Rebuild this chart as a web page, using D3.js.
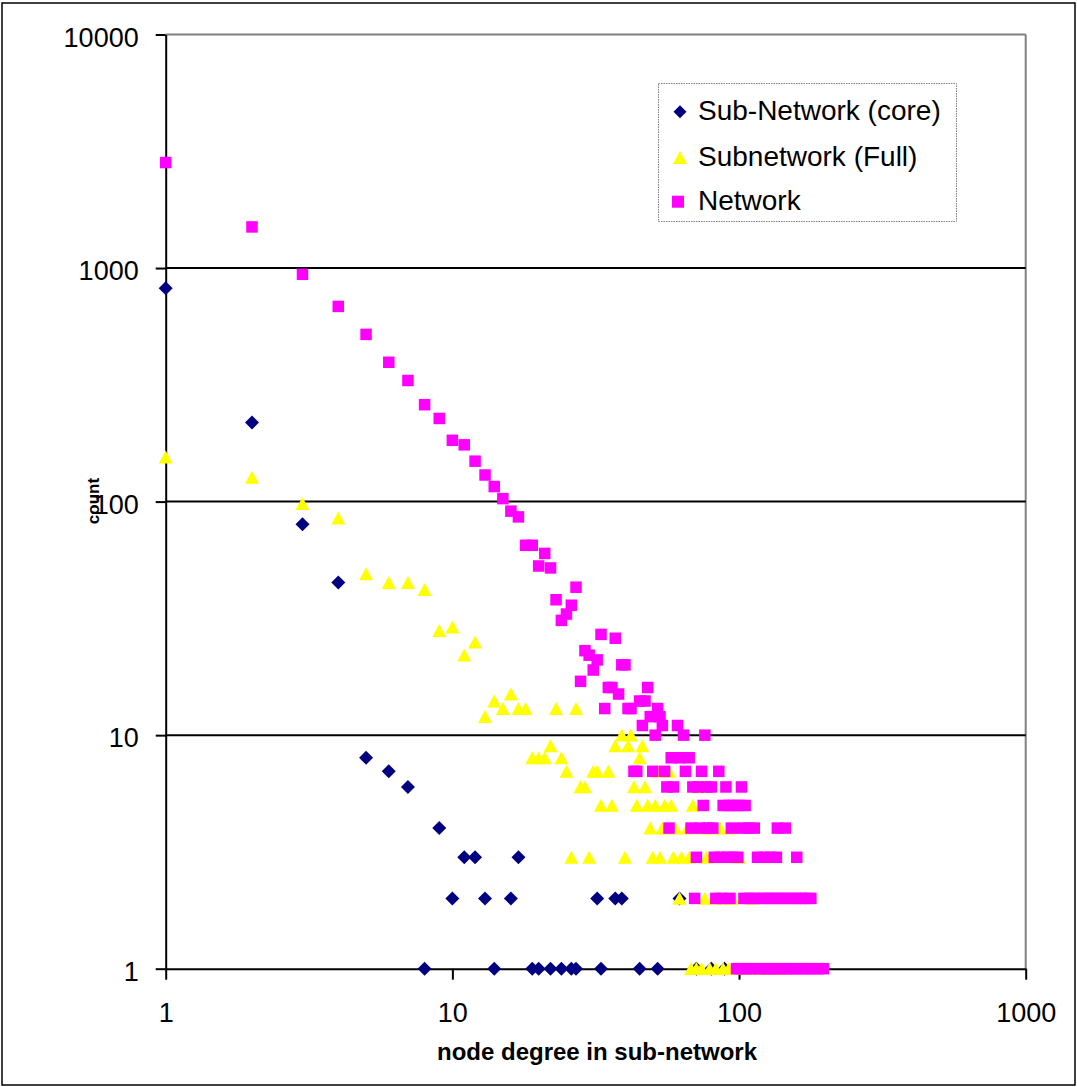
<!DOCTYPE html>
<html>
<head>
<meta charset="utf-8">
<script src="https://cdn.jsdelivr.net/npm/d3@7"></script>
<style>
  html, body { margin: 0; padding: 0; background: #fff; }
  svg { display: block; font-family: "Liberation Sans", Arial, sans-serif; }
</style>
</head>
<body>
<svg id="chart" width="1077" height="1087"></svg>
<script>
// ---------- data ----------
const seriesNames = ["Sub-Network (core)", "Subnetwork (Full)", "Network"];
const xTicks = [1, 10, 100, 1000];
const yTicks = [1, 10, 100, 1000, 10000];

const coreDegree = [1,2,3,4,5,6,7,8,9,10,11,12,13,14,16,17,19,20,22,24,26,27,32,33,37,39,45,52,62,71,80,89];
const coreCount  = [820,218,80,45,8,7,6,1,4,2,3,3,2,1,2,3,1,1,1,1,1,1,2,1,2,2,1,1,2,1,1,1];

const fullDegree = [1,2,3,4,5,6,7,8,9,10,11,12,13,14,15,16,17,18,19,20,21,22,23,24,25,26,27,28,29,30,
  31,32,33,35,36,37,39,40,41,42,43,44,45,46,47,48,49,50,51,52,53,54,55,57,58,59,60,62,63,66,67,68,69,
  71,72,74,75,76,77,79,80,82,83,86,88,90,92,93,95,98,100,104,110,111,117,124,132,140];
const fullCount  = [155,127,98,85,49,45,45,42,28,29,22,25,12,14,13,15,13,13,8,8,8,9,13,8,7,3,13,6,6,3,
  7,7,5,7,5,9,10,3,9,10,6,5,8,9,6,5,4,3,5,7,3,4,5,7,5,3,4,2,3,4,3,1,5,
  1,6,1,4,2,3,1,4,2,1,4,1,2,1,4,2,1,3,1,1,2,1,1,1,1];

const netDegree = [1,2,3,4,5,6,7,8,9,10,11,12,13,14,15,16,17,18,19,20,21,22,23,24,25,26,27,28,29,30,
  31,32,33,34,35,36,37,38,39,40,41,42,43,44,45,46,47,48,49,50,51,52,53,54,55,56,57,58,59,61,62,64,65,67,
  68,69,70,71,72,73,74,75,76,77,78,80,81,82,83,85,86,87,88,90,91,92,93,94,95,96,98,99,100,101,102,103,
  104,105,106,108,109,111,113,114,116,117,120,122,123,126,127,129,131,133,135,136,137,139,143,145,146,
  150,151,157,158,159,164,165,171,172,178,180,188,197];
const netCount  = [2830,1500,940,685,520,395,330,260,227,183,175,149,130,116,103,91,86,65,65,53,60,52,38,31,33,36,43,17,23,22,
  19,21,27,13,16,16,26,15,20,20,13,13,7,7,14,11,14,16,12,7,10,13,12,11,7,6,4,8,6,11,8,10,7,8,
  4,6,2,3,6,4,7,5,10,6,4,6,4,3,2,7,3,2,5,6,3,5,2,4,3,5,1,3,5,1,6,4,
  2,5,1,4,2,1,4,2,3,1,2,3,1,2,1,3,2,1,3,4,2,1,2,4,1,
  2,1,2,1,3,2,1,2,1,2,1,1,1];

// ---------- layout ----------
const plot = { left: 165.7, right: 1025.7, top: 34.5, bottom: 968.7 };
const svg = d3.select("#chart");

const x = d3.scaleLog().domain([1, 1000]).range([plot.left, plot.right]);
const y = d3.scaleLog().domain([1, 10000]).range([plot.bottom, plot.top]);

// outer frame
svg.append("rect").attr("x", 2).attr("y", 3).attr("width", 1073).attr("height", 1082)
  .attr("fill", "#fff").attr("stroke", "#000").attr("stroke-width", 1.5);

// plot border (gray top / right)
svg.append("line").attr("x1", plot.left).attr("x2", plot.right).attr("y1", plot.top).attr("y2", plot.top)
  .attr("stroke", "#808080").attr("stroke-width", 2);
svg.append("line").attr("x1", plot.right).attr("x2", plot.right).attr("y1", plot.top).attr("y2", plot.bottom)
  .attr("stroke", "#808080").attr("stroke-width", 2);

// horizontal gridlines
svg.append("g").selectAll("line").data(yTicks.filter(d => d > 1 && d < 10000)).join("line")
  .attr("x1", plot.left).attr("x2", plot.right)
  .attr("y1", d => y(d)).attr("y2", d => y(d))
  .attr("stroke", "#000").attr("stroke-width", 2);

// axes
const yAxis = d3.axisLeft(y).tickValues(yTicks).tickFormat(d3.format("d"))
  .tickSize(10).tickSizeOuter(0).tickPadding(17);
const gy = svg.append("g").attr("transform", `translate(${plot.left},0)`).call(yAxis);
gy.select(".domain").attr("stroke", "#000").attr("stroke-width", 2);
gy.selectAll(".tick line").attr("stroke", "#000").attr("stroke-width", 2);
gy.selectAll(".tick text").attr("font-size", 27).attr("fill", "#000").attr("dy", "0.43em")
  .attr("font-family", "Liberation Sans, Arial, sans-serif");

const xAxis = d3.axisBottom(x).tickValues(xTicks).tickFormat(d3.format("d"))
  .tickSize(11).tickSizeOuter(0).tickPadding(23);
const gx = svg.append("g").attr("transform", `translate(0,${plot.bottom})`).call(xAxis);
gx.select(".domain").attr("stroke", "#000").attr("stroke-width", 2);
gx.selectAll(".tick line").attr("stroke", "#000").attr("stroke-width", 2);
gx.selectAll(".tick text").attr("font-size", 27).attr("fill", "#000")
  .attr("font-family", "Liberation Sans, Arial, sans-serif");

// axis titles
svg.append("text").attr("x", 597).attr("y", 1060).attr("text-anchor", "middle")
  .attr("font-size", 24).attr("font-weight", "bold").text("node degree in sub-network");
svg.append("text").attr("transform", "translate(99,501) rotate(-90)").attr("text-anchor", "middle")
  .attr("font-size", 17).attr("font-weight", "bold").text("count");

// markers
const diamondPath = "M0,-7L7,0L0,7L-7,0Z";
const trianglePath = "M0,-6.6L7,6.4L-7,6.4Z";
const sq = 11.5;

function pts(deg, cnt) { return deg.map((d, i) => ({ d, c: cnt[i] })); }

const gm = svg.append("g");
gm.append("g").selectAll("path").data(pts(coreDegree, coreCount)).join("path")
  .attr("d", diamondPath).attr("fill", "#000080")
  .attr("transform", p => `translate(${x(p.d)},${y(p.c)})`);
gm.append("g").selectAll("path").data(pts(fullDegree, fullCount)).join("path")
  .attr("d", trianglePath).attr("fill", "#FFFF00")
  .attr("transform", p => `translate(${x(p.d)},${y(p.c)})`);
gm.append("g").selectAll("rect").data(pts(netDegree, netCount)).join("rect")
  .attr("x", p => x(p.d) - sq / 2).attr("y", p => y(p.c) - sq / 2)
  .attr("width", sq).attr("height", sq).attr("fill", "#FF00FF");

// legend
const lg = svg.append("g");
lg.append("rect").attr("x", 658.5).attr("y", 83.5).attr("width", 298).attr("height", 138)
  .attr("fill", "#fff").attr("stroke", "#808080").attr("stroke-width", 1).attr("stroke-dasharray", "1.5,1");
const legendRows = [
  { name: seriesNames[0], y: 111.7, kind: "diamond" },
  { name: seriesNames[1], y: 157.5, kind: "triangle" },
  { name: seriesNames[2], y: 201.7, kind: "square" }
];
legendRows.forEach(r => {
  if (r.kind === "diamond") {
    lg.append("path").attr("d", "M0,-6.5L6.5,0L0,6.5L-6.5,0Z").attr("fill", "#000080")
      .attr("transform", `translate(680,${r.y})`);
  } else if (r.kind === "triangle") {
    lg.append("path").attr("d", trianglePath).attr("fill", "#FFFF00")
      .attr("transform", `translate(680,${r.y})`);
  } else {
    lg.append("rect").attr("x", 678 - 6).attr("y", r.y - 6).attr("width", 12).attr("height", 12)
      .attr("fill", "#FF00FF");
  }
  lg.append("text").attr("x", 698).attr("y", r.y + 8.5).attr("font-size", 28).attr("fill", "#000")
    .text(r.name);
});
</script>
</body>
</html>
